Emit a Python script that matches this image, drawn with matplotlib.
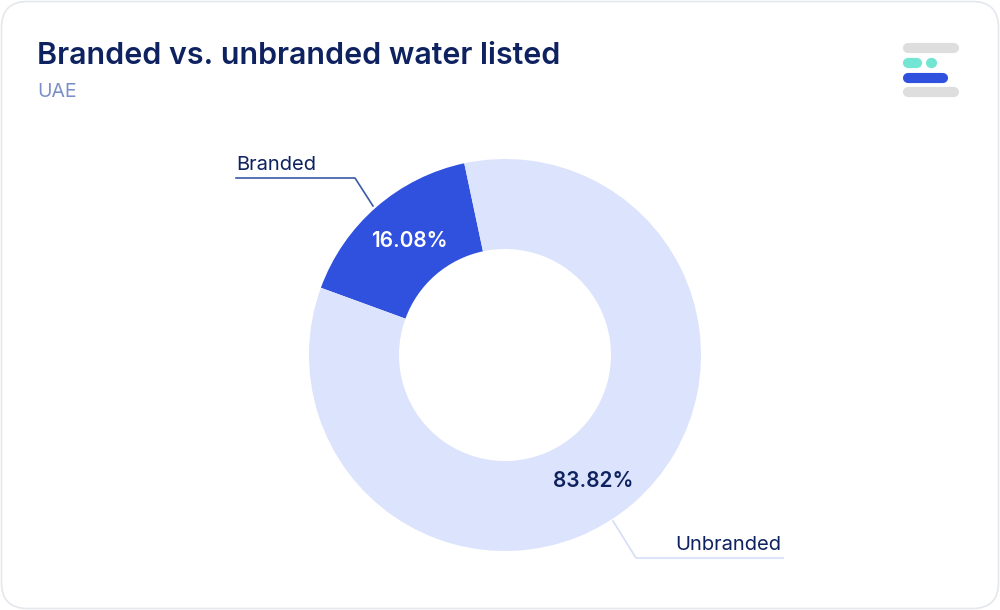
import numpy as np
import matplotlib
matplotlib.use("Agg")
import matplotlib.pyplot as plt
from matplotlib.patches import FancyBboxPatch

# ---- data ----
categories = ["Branded", "Unbranded"]
shares = [16.08, 83.82]
pct_labels = ["16.08%", "83.82%"]
slice_colors = ["#3050DE", "#DCE3FC"]
pct_colors = ["#FFFFFF", "#0E2260"]
title = "Branded vs. unbranded water listed"
subtitle = "UAE"

W, H = 1000, 610
fig = plt.figure(figsize=(W / 100, H / 100), dpi=100)
fig.patch.set_facecolor("white")
ax = fig.add_axes([0, 0, 1, 1])

def Y(y):  # convert top-down pixel y to axis y
    return H - y

cx, cy = 505, Y(355)
R, r = 196, 106

wedges, _ = ax.pie(shares, colors=slice_colors, startangle=102, counterclock=True,
                   center=(cx, cy), radius=R,
                   wedgeprops=dict(width=R - r, linewidth=0))

ax.set_xlim(0, W)
ax.set_ylim(0, H)
ax.set_aspect("equal")
ax.axis("off")

font = "Inter"

# card border
card = FancyBboxPatch((1.5, 1.5), W - 3, H - 3,
                      boxstyle="round,pad=0,rounding_size=26",
                      facecolor="none", edgecolor="#E4E7EC", linewidth=1.2, zorder=0)
ax.add_patch(card)

# title + subtitle
ax.text(37, Y(64), title, fontsize=21.9, fontweight="semibold", color="#0E2260",
        family=font, ha="left", va="baseline")
ax.text(37, Y(97), subtitle, fontsize=14, color="#7B8EC8", family=font,
        ha="left", va="baseline")

# logo
def pill(x0, x1, y, color):
    ax.plot([x0 + 5, x1 - 5], [Y(y), Y(y)], color=color, linewidth=7.3,
            solid_capstyle="round", zorder=3)
pill(903, 959, 48, "#DEDEDE")
pill(903, 922, 63, "#72E6D2")
pill(903 + 23, 937, 63, "#72E6D2")
pill(903, 948, 78, "#3050DE")
pill(903, 959, 92, "#DEDEDE")

# label layout (pixel positions, top-down y)
pct_pos = [(409, 241), (593, 481)]
leader_paths = [[(373, 206), (355, 178), (236, 178)],
                [(613, 521), (636, 558), (783, 558)]]
leader_colors = ["#3A5AA8", "#D5DDF8"]

for i, w in enumerate(wedges):
    px, py = pct_pos[i]
    ax.text(px, Y(py), pct_labels[i], fontsize=15, fontweight="semibold",
            color=pct_colors[i], family=font, ha="center", va="center")
    path = leader_paths[i]
    ax.plot([p[0] for p in path], [Y(p[1]) for p in path], color=leader_colors[i],
            linewidth=1.2, zorder=2)
    xe, ye = path[-1]
    ha = "left" if xe < cx else "right"
    ax.text(xe if ha == "left" else xe - 2, Y(ye) + 8, categories[i], fontsize=14.5,
            color="#0E2260", family=font, ha=ha, va="baseline")

fig.savefig("out.png", dpi=100, facecolor="white")
